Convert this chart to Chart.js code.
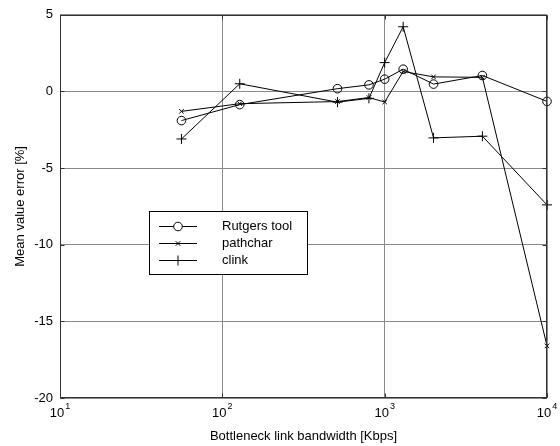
<!DOCTYPE html>
<html>
<head>
<meta charset="utf-8">
<script src="https://cdn.jsdelivr.net/npm/chart.js@4.4.1/dist/chart.umd.min.js"></script>
<style>
  body { margin: 0; background: #fff; }
  #wrap { width: 560px; height: 446px; }
</style>
</head>
<body>
<div id="wrap"><canvas id="errChart"></canvas></div>
<script>
// Mean value error vs bottleneck bandwidth

const bandwidth = [56, 128, 512, 800, 1000, 1300, 2000, 4000, 10000]
const rutgers = [-1.9, -0.86, 0.18, 0.43, 0.8, 1.45, 0.48, 1.04, -0.65]
const pathchar = [-1.3, -0.8, -0.66, -0.4, -0.69, 1.3, 0.95, 0.92, -16.6]
const clink = [-3.1, 0.5, -0.7, -0.45, 1.88, 4.22, -3.03, -2.92, -7.4]

const xTicks = [10, 100, 1000, 10000]
const yTicks = [5, 0, -5, -10, -15, -20]

const FONT = "'Liberation Sans', Arial, sans-serif"

function series(label, values, style, radius) {
  return {
    label: label,
    data: bandwidth.map((b, i) => ({ x: b, y: values[i] })),
    borderColor: '#000',
    borderWidth: 1,
    backgroundColor: 'rgba(0,0,0,0)',
    pointStyle: style,
    pointRadius: radius,
    pointBorderColor: '#000',
    pointBorderWidth: 1,
    tension: 0,
    clip: false,
  }
}

// frame, inward ticks and 10^n labels
const framePlugin = {
  id: 'frame',
  afterDraw(chart) {
    const ctx = chart.ctx
    const a = chart.chartArea
    const xs = chart.scales.x
    const ys = chart.scales.y
    ctx.save()
    ctx.strokeStyle = '#333'
    ctx.lineWidth = 1
    const l = Math.round(a.left) + 0.5, r = Math.round(a.right) - 0.5
    const t = Math.round(a.top) + 0.5, b = Math.round(a.bottom) - 0.5
    ctx.strokeRect(l, t, r - l, b - t)
    ctx.beginPath()
    yTicks.forEach(v => {
      const y = Math.round(ys.getPixelForValue(v)) + 0.5
      ctx.moveTo(l, y); ctx.lineTo(l + 4, y)
      ctx.moveTo(r, y); ctx.lineTo(r - 4, y)
    })
    xTicks.forEach(v => {
      const x = Math.round(xs.getPixelForValue(v)) + 0.5
      ctx.moveTo(x, b); ctx.lineTo(x, b - 4)
      ctx.moveTo(x, t); ctx.lineTo(x, t + 4)
    })
    ctx.stroke()

    ctx.fillStyle = '#000'
    ctx.textBaseline = 'alphabetic'
    xTicks.forEach(v => {
      const x = xs.getPixelForValue(v)
      const exp = String(Math.round(Math.log10(v)))
      ctx.font = '13px ' + FONT
      const wBase = ctx.measureText('10').width
      ctx.font = '9px ' + FONT
      const wExp = ctx.measureText(exp).width
      const x0 = x - (wBase + 1 + wExp) / 2
      ctx.font = '13px ' + FONT
      ctx.textAlign = 'left'
      ctx.fillText('10', x0, 417)
      ctx.font = '9px ' + FONT
      ctx.fillText(exp, x0 + wBase + 1, 409)
    })
    ctx.restore()
  },
}

// boxed legend inside the plot, line sample with marker
const boxLegend = {
  id: 'boxLegend',
  afterDatasetsDraw(chart) {
    const ctx = chart.ctx
    const bx = 149, by = 211, bw = 158, bh = 63
    ctx.save()
    ctx.fillStyle = '#fff'
    ctx.fillRect(bx, by, bw, bh)
    ctx.strokeStyle = '#000'
    ctx.lineWidth = 1
    ctx.strokeRect(bx + 0.5, by + 0.5, bw, bh)
    chart.data.datasets.forEach((ds, i) => {
      const y = by + 15 + i * 17 + 0.5
      ctx.strokeStyle = '#000'
      ctx.lineWidth = 1
      ctx.beginPath()
      ctx.moveTo(159, y)
      ctx.lineTo(197, y)
      ctx.stroke()
      Chart.helpers.drawPoint(ctx, {
        pointStyle: ds.pointStyle,
        radius: ds.pointRadius,
        borderWidth: 1,
        rotation: 0,
      }, 178, y)
      ctx.fillStyle = '#000'
      ctx.font = '13px ' + FONT
      ctx.textAlign = 'left'
      ctx.textBaseline = 'middle'
      ctx.fillText(ds.label, 222, y)
    })
    ctx.restore()
  },
}

const config = {
  type: 'line',
  data: {
    datasets: [
      series('Rutgers tool', rutgers, 'circle', 4.3),
      series('pathchar', pathchar, 'crossRot', 3.2),
      series('clink', clink, 'cross', 5),
    ],
  },
  options: {
    responsive: true,
    maintainAspectRatio: false,
    animation: false,
    layout: { padding: { top: 14, right: 13, left: 0, bottom: 0 } },
    plugins: {
      legend: { display: false },
      tooltip: { enabled: false },
    },
    scales: {
      x: {
        type: 'logarithmic',
        min: 10,
        max: 10000,
        afterBuildTicks: (s) => { s.ticks = xTicks.map(v => ({ value: v })) },
        afterFit: (s) => { s.height = 48 },
        ticks: { display: false },
        grid: { color: '#8a8a8a', lineWidth: 1, drawTicks: false },
        border: { display: false },
        title: {
          display: true,
          text: 'Bottleneck link bandwidth [Kbps]',
          color: '#000',
          font: { size: 13, family: FONT },
          padding: { top: 0, bottom: 2 },
        },
      },
      y: {
        min: -20,
        max: 5,
        afterBuildTicks: (s) => { s.ticks = yTicks.map(v => ({ value: v })) },
        afterFit: (s) => { s.width = 60 },
        ticks: {
          color: '#000',
          font: { size: 13, family: FONT },
          padding: 7,
        },
        grid: { color: '#8a8a8a', lineWidth: 1, drawTicks: false },
        border: { display: false },
        title: {
          display: true,
          text: 'Mean value error [%]',
          color: '#000',
          font: { size: 13, family: FONT },
          padding: { top: 13, bottom: 0 },
        },
      },
    },
  },
  plugins: [framePlugin, boxLegend],
}

const myChart = new Chart(document.getElementById('errChart'), config)
</script>
</body>
</html>
